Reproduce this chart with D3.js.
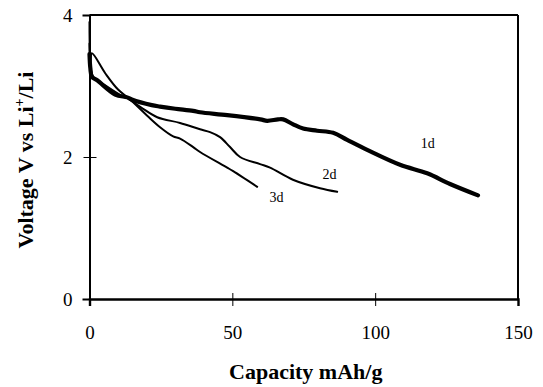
<!DOCTYPE html>
<html>
<head>
<meta charset="utf-8">
<script src="https://cdn.jsdelivr.net/npm/d3@7"></script>
<style>
  html, body { margin: 0; padding: 0; background: #fff; }
  svg { display: block; }
  text { font-family: "Liberation Serif", "Times New Roman", serif; fill: #000; }
</style>
</head>
<body>
<svg id="chart" width="543" height="387"></svg>
<script>
// Discharge curves: capacity (mAh/g) vs voltage (V vs Li+/Li)
const xTicks = [0, 50, 100, 150];
const yTicks = [0, 2, 4];

const cap1d = [0, 0.3, 0.84, 2.7, 9.0, 13.2, 14.8, 21.8, 24.7, 30.0, 36.3, 38.7, 48.2, 59.8, 62.2, 66.0, 67.8, 71.3, 74.8, 79.7, 85.3, 90.2, 97.2, 108.7, 118.2, 126.2, 136.0];
const volt1d = [3.45, 3.25, 3.13, 3.08, 2.88, 2.84, 2.81, 2.73, 2.71, 2.68, 2.65, 2.63, 2.59, 2.53, 2.51, 2.53, 2.53, 2.46, 2.40, 2.37, 2.34, 2.24, 2.10, 1.89, 1.77, 1.62, 1.46];

const cap2d = [0, 0.3, 1.3, 5.5, 11.4, 13.2, 18.0, 23.7, 31.7, 38.7, 42.2, 45.7, 49.2, 52.7, 59.7, 63.2, 71.2, 80.7, 86.7];
const volt2d = [3.6, 3.3, 3.13, 3.01, 2.86, 2.83, 2.70, 2.56, 2.48, 2.39, 2.35, 2.28, 2.14, 2.00, 1.90, 1.85, 1.68, 1.56, 1.51];

const cap3d = [0, 0.3, 0.84, 5.5, 10.0, 14.2, 20.5, 24.7, 29.3, 31.7, 36.3, 38.7, 48.2, 50.3, 58.7];
const volt3d = [3.9, 3.35, 3.46, 3.18, 2.95, 2.81, 2.57, 2.42, 2.29, 2.26, 2.14, 2.07, 1.85, 1.80, 1.58];

const seriesNames = ["1d", "2d", "3d"];
// label anchor positions in data units
const labelCap = [118.4, 84.0, 65.5];
const labelVolt = [2.13, 1.69, 1.37];

const series = [
  { name: seriesNames[0], cap: cap1d, volt: volt1d, width: 4.2 },
  { name: seriesNames[1], cap: cap2d, volt: volt2d, width: 2 },
  { name: seriesNames[2], cap: cap3d, volt: volt3d, width: 2 }
];

const margin = { left: 89.5, top: 15, right: 25, bottom: 88 };
const svg = d3.select("#chart");
const pw = 518 - margin.left, ph = 299 - margin.top;

const x = d3.scaleLinear().domain([0, 150]).range([margin.left, margin.left + pw]);
const y = d3.scaleLinear().domain([0, 4]).range([margin.top + ph, margin.top]);

// frame: top and right edges
svg.append("line").attr("x1", x(0)).attr("x2", x(150)).attr("y1", y(4)).attr("y2", y(4))
  .attr("stroke", "#000").attr("stroke-width", 2);
svg.append("line").attr("x1", x(150)).attr("x2", x(150)).attr("y1", y(4)).attr("y2", y(0))
  .attr("stroke", "#000").attr("stroke-width", 2);

// bottom axis with ticks crossing the line
const gx = svg.append("g").attr("transform", `translate(0,${y(0)})`)
  .call(d3.axisBottom(x).tickValues(xTicks).tickSize(7).tickPadding(0).tickFormat(d3.format("d")));
gx.select(".domain").attr("stroke", "#000").attr("stroke-width", 2.4);
gx.selectAll(".tick line").attr("y1", -6).attr("y2", 7).attr("stroke", "#000").attr("stroke-width", 1);
gx.selectAll(".tick text").attr("y", 40).attr("dy", 0).style("font-size", "19px")
  .style("font-family", '"Liberation Serif", serif');

// left axis with ticks crossing the line
const gy = svg.append("g").attr("transform", `translate(${x(0)},0)`)
  .call(d3.axisLeft(y).tickValues(yTicks).tickSize(7).tickPadding(0).tickFormat(d3.format("d")));
gy.select(".domain").attr("stroke", "#000").attr("stroke-width", 2);
gy.selectAll(".tick line").attr("x1", -6).attr("x2", 7).attr("stroke", "#000").attr("stroke-width", 1);
gy.selectAll(".tick text").attr("x", -17).attr("dy", "0.34em").style("font-size", "19px")
  .style("font-family", '"Liberation Serif", serif');
gx.select(".domain").raise();

// curves
const line = d3.line()
  .x(d => x(d[0]))
  .y(d => y(d[1]))
  .curve(d3.curveCatmullRom.alpha(0.5));

series.forEach(s => {
  const pts = s.cap.map((c, i) => [c, s.volt[i]]);
  svg.append("path")
    .datum(pts)
    .attr("d", line)
    .attr("fill", "none")
    .attr("stroke", "#000")
    .attr("stroke-width", s.width)
    .attr("stroke-linejoin", "round")
    .attr("stroke-linecap", "round");
});

// curve labels
seriesNames.forEach((n, i) => {
  svg.append("text")
    .attr("x", x(labelCap[i]))
    .attr("y", y(labelVolt[i]))
    .attr("text-anchor", "middle")
    .style("font-size", "14px")
    .text(n);
});

// axis titles
svg.append("text")
  .attr("x", (x(0) + x(150)) / 2 + 2)
  .attr("y", 379)
  .attr("text-anchor", "middle")
  .style("font-size", "22px")
  .style("font-weight", "bold")
  .text("Capacity mAh/g");

const yl = svg.append("text")
  .attr("transform", `translate(33,${160}) rotate(-90)`)
  .attr("text-anchor", "middle")
  .style("font-size", "22px")
  .style("font-weight", "bold");
yl.append("tspan").text("Voltage V vs Li");
yl.append("tspan").attr("dy", -9).style("font-size", "14px").text("+");
yl.append("tspan").attr("dy", 9).text("/Li");
</script>
</body>
</html>
